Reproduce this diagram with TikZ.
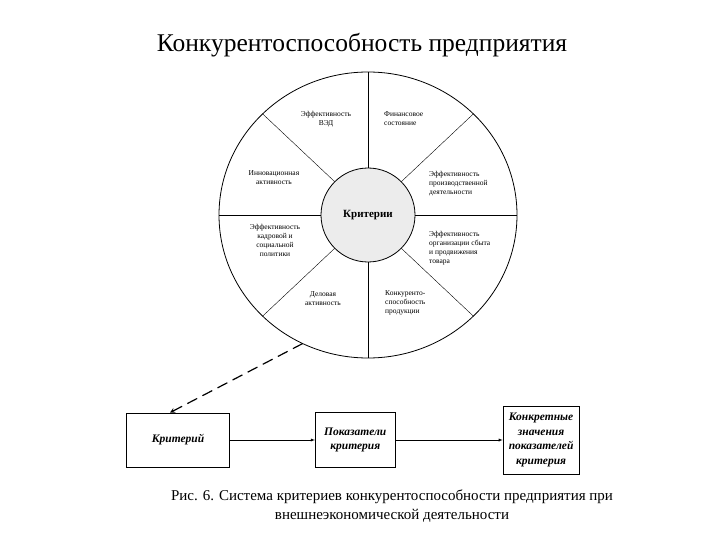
\documentclass[tikz,border=0pt]{standalone}
\usepackage{fontspec}
\setmainfont{Liberation Serif}
\usetikzlibrary{shapes.geometric, arrows, positioning, calc}

\begin{document}
\begin{tikzpicture}[x=1pt, y=-1pt, node distance=85pt, auto]
				% Styles
				\tikzstyle{lbl} = [align=center, font=\fontsize{7.5}{9}\selectfont, inner sep=1pt]
				\tikzstyle{lbll} = [lbl, align=left]
				\tikzstyle{box} = [draw, thick, rectangle, align=center, font=\fontsize{11.5}{14.5}\selectfont\bfseries\itshape]
				\tikzstyle{arrow} = [->, >=latex]
				\tikzstyle{dasharrow} = [very thick, dash pattern=on 11pt off 6pt, ->, >=stealth]

				\useasboundingbox (0,0) rectangle (720,540);

				% Title
				\node (title) at (362,45) {\fontsize{25.5}{28}\selectfont Конкурентоспособность предприятия};

				% Circle of criteria
				\coordinate (c) at (368,215);
				\draw [thick] (c) ellipse [x radius=149pt, y radius=143pt];
				\node (crit) [circle, draw, thick, fill=gray!15, minimum size=94pt, font=\fontsize{11}{13}\selectfont\bfseries] at (c) {Критерии};
				\foreach \a in {0,45,...,315}
					\draw (crit.\a) -- ($(c)+(\a:149pt and 143pt)$);

				% Sector labels
				\node (ved) [lbl] at (326,119) {Эффективность\\ВЭД};
				\node (fin) [lbll, anchor=west] at (383,119) {Финансовое\\состояние};
				\node (inn) [lbl] at (274,178) {Инновационная\\активность};
				\node (proizv) [lbll, anchor=west] at (428,184) {Эффективность\\производственной\\деятельности};
				\node (kadr) [lbl] at (275,240) {Эффективность\\кадровой и\\социальной\\политики};
				\node (sbyt) [lbll, anchor=west] at (428,248) {Эффективность\\организации сбыта\\и продвижения\\товара};
				\node (del) [lbl] at (323,299) {Деловая\\активность};
				\node (konk) [lbll, anchor=west] at (384,303) {Конкуренто-\\способность\\продукции};

				% Boxes
				\node (kr) [box, minimum width=103pt, minimum height=54pt] at (178,440) {Критерий};
				\node (pok) [box, minimum width=80pt, minimum height=55pt, right=85pt of kr] {Показатели\\критерия};
				\node (znach) [box, minimum width=76pt, minimum height=68pt, right=107pt of pok] {Конкретные\\значения\\показателей\\критерия};

				% Connections
				\draw [arrow] (kr) -- (pok);
				\draw [arrow] (pok) -- (znach);
				\coordinate (ds) at ($(c)+(244:149pt and 143pt)$);
				\coordinate (de) at ([xshift=-8pt]kr.north);
				\draw [dasharrow] (ds) -- (de);

				% Caption
				\node (cap) [align=center, font=\fontsize{15}{19}\selectfont] at (392,506) {Рис. 6. Система критериев конкурентоспособности предприятия при\\внешнеэкономической деятельности};

			\end{tikzpicture}
\end{document}
